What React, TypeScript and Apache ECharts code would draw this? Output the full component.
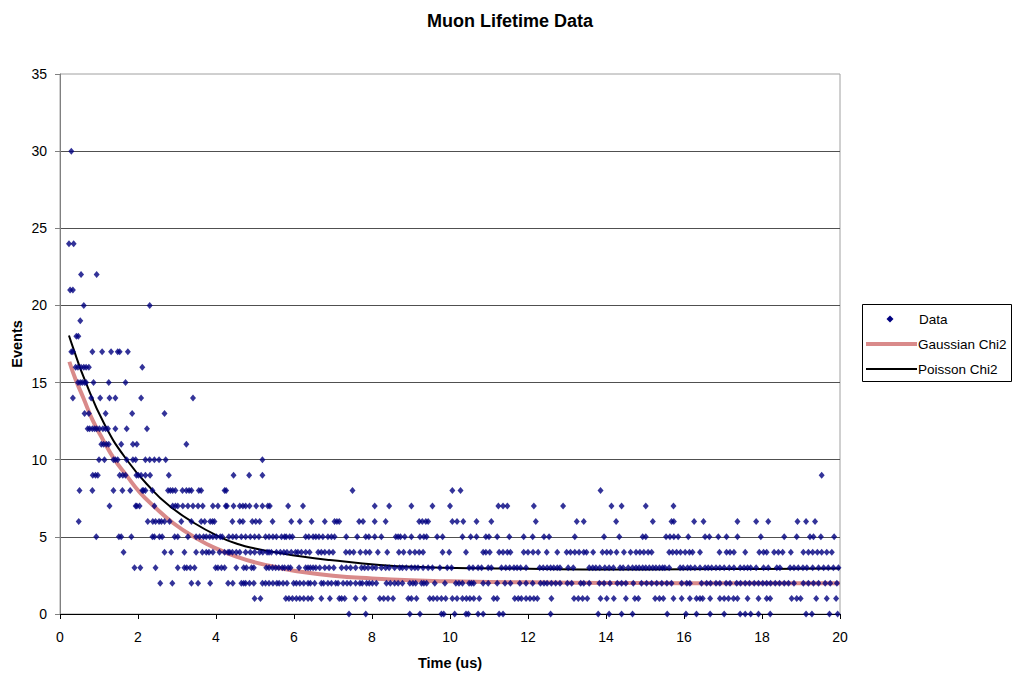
import React, { useEffect, useRef } from "react";
import * as echarts from "echarts";

const FONT = "'Liberation Sans', Arial, Helvetica, sans-serif";

// Scatter data: for each event count, the time values (us) at which it occurs
const row0 = [7.41, 7.84, 8.97, 9.23, 9.78, 9.84, 10.12, 10.41, 10.47, 10.72, 10.85, 11.26, 11.36, 12.58, 13.8, 14.08, 14.4, 14.68, 15.57, 16.05, 16.32, 16.67, 17.03, 17.44, 17.57, 17.71, 17.91, 18.21, 19.13, 19.28, 19.73, 19.94];
const row1 = [4.99, 5.14, 5.79, 5.87, 5.96, 6.06, 6.15, 6.25, 6.36, 6.45, 6.7, 6.92, 7.16, 7.22, 7.3, 7.58, 7.81, 8.2, 8.3, 8.41, 8.54, 8.93, 9.01, 9.14, 9.48, 9.57, 9.67, 9.78, 9.89, 10.06, 10.18, 10.32, 10.42, 10.51, 10.61, 10.75, 11.12, 11.21, 11.66, 11.75, 11.83, 11.95, 12.05, 12.15, 12.24, 12.6, 13.18, 13.29, 13.4, 13.52, 13.86, 14.02, 14.2, 14.51, 14.74, 14.83, 15.26, 15.37, 15.47, 15.73, 15.94, 16.15, 16.32, 16.41, 16.48, 16.67, 16.92, 17.03, 17.14, 17.27, 17.37, 17.63, 17.91, 18.12, 18.21, 18.76, 18.89, 18.99, 19.39, 19.66, 19.9];
const row2 = [2.57, 2.88, 3.37, 3.54, 3.85, 4.31, 4.43, 4.65, 4.71, 4.76, 4.86, 4.97, 5.19, 5.27, 5.36, 5.46, 5.56, 5.62, 5.72, 5.82, 5.99, 6.06, 6.15, 6.25, 6.36, 6.42, 6.53, 6.7, 6.76, 6.87, 6.96, 7.07, 7.13, 7.26, 7.36, 7.45, 7.58, 7.69, 7.75, 7.86, 7.93, 8.01, 8.11, 8.37, 8.47, 8.58, 8.67, 8.78, 8.97, 9.05, 9.12, 9.27, 9.33, 9.4, 9.61, 9.87, 10.15, 10.23, 10.32, 10.49, 10.55, 10.61, 10.85, 10.98, 11.21, 11.41, 11.55, 11.79, 11.95, 12.12, 12.32, 12.41, 12.49, 12.6, 12.71, 12.82, 13.01, 13.12, 13.35, 13.43, 13.57, 13.83, 13.95, 14.1, 14.29, 14.4, 14.51, 14.7, 14.91, 15.04, 15.17, 15.3, 15.43, 15.56, 15.68, 15.94, 16.07, 16.15, 16.45, 16.58, 16.68, 16.82, 16.92, 17.08, 17.18, 17.35, 17.45, 17.57, 17.68, 17.8, 17.91, 18.02, 18.12, 18.22, 18.34, 18.45, 18.57, 18.68, 18.82, 19.06, 19.19, 19.32, 19.45, 19.62, 19.75, 19.92];
const row3 = [1.91, 2.06, 2.45, 3.02, 3.19, 3.25, 3.34, 3.45, 3.99, 4.05, 4.14, 4.22, 4.52, 4.71, 4.78, 4.91, 4.97, 5.29, 5.36, 5.45, 5.53, 5.61, 5.7, 5.76, 5.85, 5.91, 6.13, 6.3, 6.36, 6.42, 6.49, 6.56, 6.66, 6.79, 6.9, 7.02, 7.22, 7.34, 7.45, 7.58, 7.73, 7.81, 7.9, 8.01, 8.1, 8.24, 8.35, 8.44, 8.58, 8.71, 8.78, 8.88, 9.01, 9.1, 9.18, 9.31, 9.44, 9.55, 9.74, 9.93, 10.04, 10.49, 10.59, 10.72, 10.81, 10.98, 11.06, 11.32, 11.43, 11.53, 11.64, 11.72, 11.81, 11.95, 12.3, 12.39, 12.49, 12.58, 12.66, 12.75, 12.82, 13.03, 13.16, 13.57, 13.66, 13.74, 13.84, 13.97, 14.08, 14.19, 14.36, 14.44, 14.57, 14.68, 14.77, 14.85, 14.94, 15.02, 15.11, 15.2, 15.28, 15.37, 15.45, 15.51, 15.62, 15.9, 15.98, 16.09, 16.17, 16.28, 16.41, 16.54, 16.62, 16.71, 16.82, 16.92, 17.03, 17.16, 17.28, 17.44, 17.54, 17.63, 17.71, 17.85, 18.04, 18.16, 18.38, 18.46, 18.72, 18.82, 18.93, 19.05, 19.15, 19.3, 19.45, 19.58, 19.7, 19.83, 19.96];
const row4 = [1.63, 2.68, 2.85, 3.19, 3.49, 3.65, 3.75, 3.82, 3.92, 4.09, 4.22, 4.31, 4.35, 4.42, 4.52, 4.61, 4.76, 4.88, 4.99, 5.12, 5.2, 5.31, 5.36, 5.42, 5.55, 5.65, 5.74, 5.82, 5.93, 6.04, 6.1, 6.19, 6.3, 6.4, 6.62, 6.7, 6.79, 6.9, 7.0, 7.33, 7.43, 7.53, 7.7, 7.84, 7.94, 8.15, 8.39, 8.69, 8.81, 8.97, 9.1, 9.21, 9.31, 9.81, 9.98, 10.41, 10.85, 10.92, 11.02, 11.26, 11.36, 11.47, 11.55, 11.89, 12.0, 12.13, 12.26, 12.48, 12.75, 12.99, 13.09, 13.2, 13.31, 13.43, 13.5, 13.67, 13.91, 14.02, 14.12, 14.27, 14.46, 14.63, 14.77, 14.87, 14.97, 15.08, 15.17, 15.62, 15.71, 15.81, 15.91, 16.03, 16.14, 16.22, 16.41, 16.91, 17.09, 17.18, 17.28, 17.57, 17.93, 18.04, 18.12, 18.31, 18.42, 18.53, 18.74, 19.06, 19.19, 19.3, 19.42, 19.53, 19.66, 19.79];
const row5 = [0.93, 1.51, 1.57, 1.83, 2.37, 2.42, 2.55, 2.62, 2.94, 3.02, 3.28, 3.49, 3.58, 3.68, 3.75, 3.84, 3.92, 4.01, 4.11, 4.16, 4.33, 4.43, 4.52, 4.65, 4.76, 4.88, 4.99, 5.1, 5.27, 5.36, 5.46, 5.55, 5.68, 5.76, 5.8, 5.89, 5.96, 6.3, 6.38, 6.49, 6.56, 6.64, 6.74, 6.87, 6.96, 7.04, 7.34, 7.62, 7.84, 7.92, 8.07, 8.24, 8.61, 8.67, 8.73, 8.84, 9.01, 9.23, 9.33, 9.4, 9.67, 9.81, 10.32, 10.53, 10.68, 10.92, 11.0, 11.21, 11.52, 11.89, 12.12, 12.41, 12.54, 13.2, 13.95, 14.34, 14.94, 15.02, 15.54, 15.64, 15.74, 15.85, 16.11, 16.54, 16.65, 16.88, 17.09, 17.37, 17.97, 18.57, 18.89, 19.23, 19.32, 19.51, 19.85];
const row6 = [0.48, 2.25, 2.38, 2.45, 2.54, 2.6, 2.68, 2.81, 3.11, 3.37, 3.62, 3.71, 3.85, 3.91, 3.96, 4.42, 4.61, 4.69, 4.93, 5.02, 5.12, 5.45, 5.93, 6.15, 6.45, 6.79, 7.04, 7.1, 7.16, 7.67, 7.77, 8.07, 8.35, 9.21, 9.29, 9.38, 9.44, 10.06, 10.18, 10.34, 10.68, 11.06, 12.2, 13.25, 13.43, 14.26, 15.2, 15.68, 15.74, 16.26, 16.5, 17.37, 17.85, 18.16, 18.91, 19.13, 19.36];
const row7 = [1.27, 1.94, 1.97, 2.04, 2.42, 2.89, 2.96, 3.02, 3.15, 3.28, 3.41, 3.54, 3.66, 3.92, 4.05, 4.25, 4.28, 4.45, 4.61, 4.69, 4.76, 4.86, 5.03, 5.19, 5.33, 5.38, 5.85, 6.23, 8.07, 8.44, 9.01, 9.55, 10.0, 11.24, 11.36, 11.47, 12.15, 12.9, 14.14, 14.4, 15.02, 15.73];
const row8 = [0.5, 0.83, 1.37, 1.6, 1.8, 2.11, 2.14, 2.19, 2.37, 2.77, 2.83, 2.89, 2.96, 3.14, 3.24, 3.31, 3.37, 3.56, 3.62, 4.22, 4.26, 7.5, 10.06, 10.27, 13.86];
const row9 = [0.84, 0.91, 0.97, 1.53, 1.61, 1.68, 1.96, 2.01, 2.08, 2.19, 2.31, 2.79, 4.45, 4.85, 5.19, 19.53];
const row10 = [1.0, 1.14, 1.37, 1.42, 1.48, 1.71, 1.87, 1.94, 2.19, 2.3, 2.42, 2.54, 2.71, 5.19];
const row11 = [1.06, 1.12, 1.19, 1.25, 1.57, 1.87, 1.97, 3.24];
const row12 = [0.71, 0.76, 0.83, 0.89, 0.94, 1.01, 1.1, 1.17, 1.23, 1.42, 1.71, 2.23];
const row13 = [0.63, 0.74, 1.17, 1.85, 2.68];
const row14 = [0.33, 0.8, 1.03, 1.27, 1.42, 2.08, 3.41];
const row15 = [0.46, 0.52, 0.57, 0.63, 0.67, 0.86, 1.25, 1.68];
const row16 = [0.4, 0.46, 0.54, 0.61, 0.67, 0.74, 2.11];
const row17 = [0.29, 0.33, 0.83, 1.08, 1.31, 1.48, 1.53, 1.74];
const row18 = [0.42, 0.47];
const row19 = [0.52];
const row20 = [0.61, 2.3];
const row21 = [0.26, 0.33];
const row22 = [0.54, 0.94];
const row24 = [0.23, 0.35];
const row30 = [0.29];

const eventRows: [number, number[]][] = [
  [0, row0], [1, row1], [2, row2], [3, row3], [4, row4], [5, row5], [6, row6],
  [7, row7], [8, row8], [9, row9], [10, row10], [11, row11], [12, row12],
  [13, row13], [14, row14], [15, row15], [16, row16], [17, row17], [18, row18],
  [19, row19], [20, row20], [21, row21], [22, row22], [24, row24], [30, row30],
];

// Fitted curves
const gaussTime = [0.24, 0.4, 0.6, 0.83, 1.1, 1.4, 1.7, 2.04, 2.4, 2.9, 3.5, 4.0, 4.6, 5.0, 5.6, 6, 7, 8, 9, 10, 12, 14, 16, 18, 20];
const gaussFit = [16.35, 15.2, 14.0, 12.6, 11.3, 10.0, 9.0, 7.9, 7.0, 5.9, 4.9, 4.25, 3.65, 3.35, 3.0, 2.8, 2.48, 2.3, 2.18, 2.12, 2.05, 2.01, 2.0, 2.0, 2.0];
const poissonTime = [0.23, 0.33, 0.63, 1.14, 1.71, 2.38, 2.81, 3.37, 4.09, 4.6, 5.0, 5.63, 6.2, 6.92, 8.2, 9.4, 10.5, 12, 14, 16, 18, 20];
const poissonFit = [18.05, 17.3, 15.2, 12.3, 10.0, 8.0, 7.0, 6.0, 5.0, 4.5, 4.25, 3.95, 3.72, 3.5, 3.18, 3.03, 2.97, 2.93, 2.88, 2.9, 2.92, 2.95];

const xTicks = { min: 0, max: 20, interval: 2 };
const yTicks = { min: 0, max: 35, interval: 5 };

const DATA_COLOR = "#000080";
const GAUSS_COLOR = "#d98a8a";

export default function App() {
  const ref = useRef<HTMLDivElement>(null);

  useEffect(() => {
    if (!ref.current) return;
    const chart = echarts.init(ref.current, undefined, { renderer: "svg" });

    const scatterData: number[][] = [];
    eventRows.forEach(([count, times]) => {
      times.forEach((t) => scatterData.push([t, count]));
    });

    const legendText = { fontFamily: FONT, fontSize: 13.5, fill: "#000", textVerticalAlign: "middle" };

    const option: any = {
      animation: false,
      backgroundColor: "#ffffff",
      textStyle: { fontFamily: FONT },
      title: {
        text: "Muon Lifetime Data",
        left: "center",
        top: 7,
        textStyle: { fontFamily: FONT, fontSize: 18, fontWeight: "bold", color: "#000" },
      },
      grid: {
        left: 60,
        top: 74,
        right: 180,
        bottom: 63,
        show: true,
        borderColor: "#a0a0a0",
        borderWidth: 1,
        backgroundColor: "transparent",
      },
      xAxis: {
        type: "value",
        min: xTicks.min,
        max: xTicks.max,
        interval: xTicks.interval,
        axisLine: { show: true, lineStyle: { color: "#000", width: 1 } },
        axisTick: { show: true, length: 5, lineStyle: { color: "#000" } },
        axisLabel: { margin: 16, fontSize: 14, color: "#000", fontFamily: FONT },
        splitLine: { show: false },
      },
      yAxis: {
        type: "value",
        min: yTicks.min,
        max: yTicks.max,
        interval: yTicks.interval,
        axisLine: { show: true, lineStyle: { color: "#808080", width: 1 } },
        axisTick: { show: true, length: 5, lineStyle: { color: "#808080" } },
        axisLabel: { margin: 13, fontSize: 14, color: "#000", fontFamily: FONT },
        splitLine: { show: true, showMaxLine: false, lineStyle: { color: "#505050", width: 1 } },
      },
      graphic: [
        {
          type: "text",
          x: 17,
          y: 344,
          rotation: Math.PI / 2,
          style: {
            text: "Events",
            fontFamily: FONT,
            fontSize: 14.5,
            fontWeight: "bold",
            fill: "#000",
            textAlign: "center",
            textVerticalAlign: "middle",
          },
        },
        {
          type: "text",
          x: 450,
          y: 663,
          style: {
            text: "Time (us)",
            fontFamily: FONT,
            fontSize: 14.5,
            fontWeight: "bold",
            fill: "#000",
            textAlign: "center",
            textVerticalAlign: "middle",
          },
        },
        {
          type: "group",
          x: 862,
          y: 304,
          children: [
            {
              type: "rect",
              shape: { x: 0.5, y: 0.5, width: 149, height: 77 },
              style: { fill: "#fff", stroke: "#000", lineWidth: 1 },
            },
            {
              type: "polygon",
              shape: { points: [[28, 11.5], [31.5, 15], [28, 18.5], [24.5, 15]] },
              style: { fill: DATA_COLOR },
            },
            { type: "text", x: 57, y: 15, style: { ...legendText, text: "Data" } },
            {
              type: "line",
              shape: { x1: 4, y1: 40, x2: 55, y2: 40 },
              style: { stroke: GAUSS_COLOR, lineWidth: 4 },
            },
            { type: "text", x: 56, y: 40, style: { ...legendText, text: "Gaussian Chi2" } },
            {
              type: "line",
              shape: { x1: 4, y1: 65, x2: 55, y2: 65 },
              style: { stroke: "#000", lineWidth: 2 },
            },
            { type: "text", x: 56, y: 65, style: { ...legendText, text: "Poisson Chi2" } },
          ],
        },
      ],
      series: [
        {
          name: "Gaussian Chi2",
          type: "line",
          data: gaussTime.map((t, i) => [t, gaussFit[i]]),
          smooth: true,
          symbol: "none",
          lineStyle: { color: GAUSS_COLOR, width: 4 },
          z: 2,
        },
        {
          name: "Poisson Chi2",
          type: "line",
          data: poissonTime.map((t, i) => [t, poissonFit[i]]),
          smooth: true,
          symbol: "none",
          lineStyle: { color: "#000", width: 2 },
          z: 2,
        },
        {
          name: "Data",
          type: "scatter",
          data: scatterData,
          symbol: "diamond",
          symbolSize: [6, 7],
          itemStyle: { color: DATA_COLOR },
          z: 3,
        },
      ],
    };

    chart.setOption(option);
    return () => chart.dispose();
  }, []);

  return (
    <div
      ref={ref}
      style={{ position: "fixed", left: 0, top: 0, width: 1020, height: 677, background: "#fff" }}
    />
  );
}
